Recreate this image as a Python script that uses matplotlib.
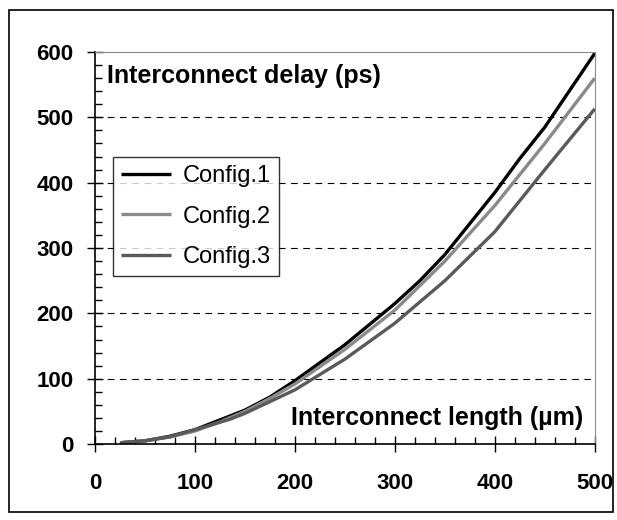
import matplotlib
matplotlib.use("Agg")
import matplotlib.pyplot as plt
from matplotlib.patches import Rectangle
from matplotlib.ticker import MultipleLocator

plt.rcParams['font.family'] = ['Liberation Sans', 'DejaVu Sans']

# ── data ──────────────────────────────────────────────────
length_c1 = [25, 50, 75, 100, 125, 150, 175, 200, 250, 300, 325, 350, 400, 425, 450, 500]
delay_c1  = [2, 5, 12, 22, 37, 52, 72, 97, 152, 215, 250, 290, 385, 437, 485, 598]

length_c2 = [25, 50, 75, 100, 125, 150, 175, 200, 250, 300, 350, 400, 450, 500]
delay_c2  = [2, 5, 11, 20, 34, 50, 70, 92, 145, 205, 280, 365, 460, 560]

length_c3 = [25, 50, 75, 100, 135, 150, 200, 250, 300, 350, 400, 450, 500]
delay_c3  = [2, 5, 11, 22, 38, 47, 83, 130, 185, 250, 325, 420, 513]

labels = ["Config.1", "Config.2", "Config.3"]
colors = ["#000000", "#8a8a8a", "#5a5a5a"]

fig = plt.figure(figsize=(6.17, 5.2), dpi=100)
ax = fig.add_axes([0.154, 0.146, 0.81, 0.754])

# outer chart frame
fig.patches.append(Rectangle((9/617, 8/520), 604/617, 502/520, transform=fig.transFigure,
                             fill=False, edgecolor="black", lw=1.2))

series = [(length_c1, delay_c1), (length_c2, delay_c2), (length_c3, delay_c3)]
for (xs, ys), lab, col in zip(series, labels, colors):
    ax.plot(xs, ys, color=col, lw=2.4, label=lab, solid_capstyle="butt")

ax.set_xlim(0, 500)
ax.set_ylim(0, 600)
ax.xaxis.set_major_locator(MultipleLocator(100))
ax.xaxis.set_minor_locator(MultipleLocator(20))
ax.yaxis.set_major_locator(MultipleLocator(100))
ax.yaxis.set_minor_locator(MultipleLocator(20))

for y in range(100, 600, 100):
    ax.axhline(y, color="black", lw=0.8, ls=(0, (6, 5)), zorder=0)

ax.tick_params(which="major", direction="inout", length=11, width=1, labelsize=16)
ax.tick_params(axis="x", which="major", pad=15)
ax.tick_params(axis="y", which="major", pad=10)
ax.tick_params(which="minor", direction="in", length=5, width=1)
for t in ax.get_xticklabels() + ax.get_yticklabels():
    t.set_fontweight("bold")

ax.spines["top"].set_color("#8a8a8a")
ax.spines["right"].set_color("#8a8a8a")
ax.spines["left"].set_linewidth(1.2)
ax.spines["bottom"].set_linewidth(1.2)

ax.text(0.024, 0.939, "Interconnect delay (ps)", transform=ax.transAxes,
        fontsize=18, fontweight="bold", va="center", ha="left")
ax.text(0.976, 0.066, "Interconnect length (µm)", transform=ax.transAxes,
        fontsize=18, fontweight="bold", va="center", ha="right")

leg = ax.legend(loc="upper left", bbox_to_anchor=(0.036, 0.732), fontsize=17,
                frameon=True, fancybox=False, edgecolor="black", handlelength=2.1,
                handletextpad=0.5, borderpad=0.35, labelspacing=0.78,
                borderaxespad=0)
leg.get_frame().set_linewidth(1.0)

plt.savefig("out.png", dpi=100)
